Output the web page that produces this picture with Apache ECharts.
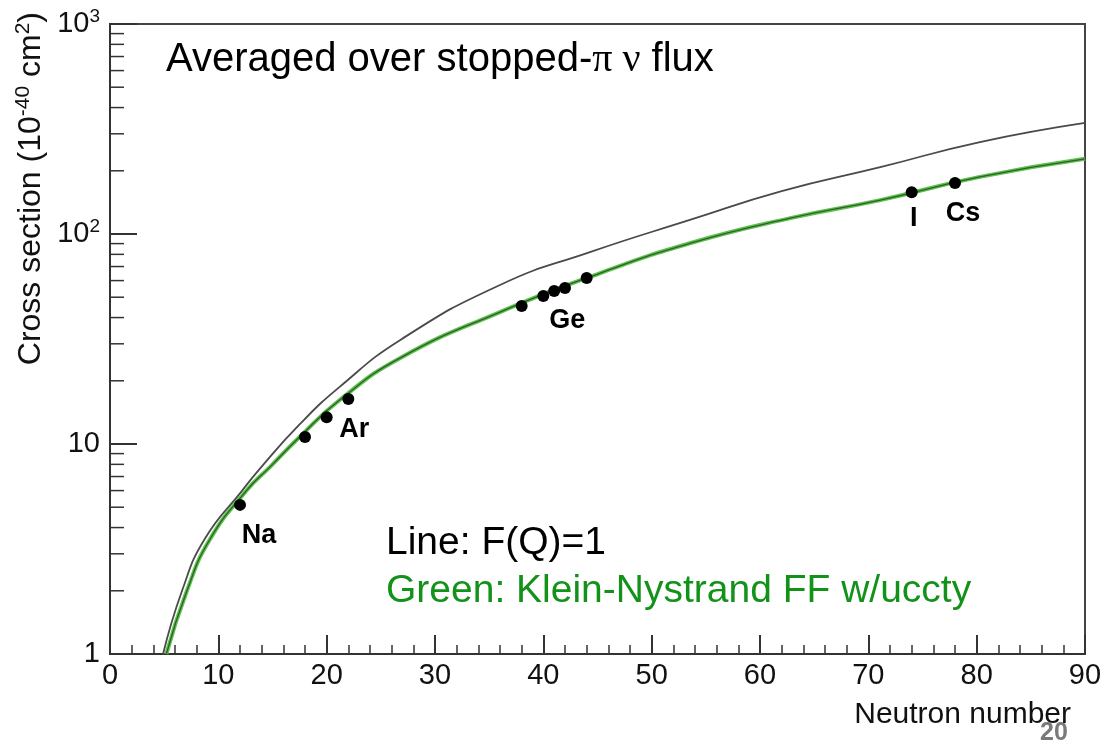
<!DOCTYPE html>
<html>
<head>
<meta charset="utf-8">
<title>Cross section vs neutron number</title>
<script src="https://cdn.jsdelivr.net/npm/echarts@6/dist/echarts.min.js"></script>
<style>
  html, body { margin: 0; padding: 0; background: #fff; }
  #main { width: 1109px; height: 744px; }
</style>
</head>
<body>
<div id="main"></div>
<script type="text/javascript">
// curve: F(Q)=1 (thin dark line)
var blackN  = [4.9, 6.65, 8.7, 12.2, 13.9, 17.5, 21.2, 26.8, 36, 44.3, 53.6, 62, 71.1, 80.3, 90];
var blackXs = [1, 2.0, 3.5, 6.0, 7.7, 12.4, 18.7, 31.3, 57.2, 82, 117, 160, 208, 274, 338];
// Klein-Nystrand FF curve (green)
var greenN  = [5.2, 7.1, 9.2, 12.6, 14.8, 17.5, 21.2, 26.8, 36, 45.2, 53.6, 62.8, 71.1, 80.3, 90];
var greenXs = [1, 2.0, 3.5, 6.0, 7.8, 10.8, 16.2, 25.7, 42.5, 65, 90.6, 119, 145, 187, 228];
// isotopes
var pointN     = [12, 18, 20, 22, 38, 40, 41, 42, 44, 74, 78];
var pointXs    = [5.13, 10.8, 13.4, 16.4, 45.4, 50.7, 53.5, 55.3, 61.7, 158, 175];
var pointLabel = ['Na', '', '', 'Ar', '', '', 'Ge', '', '', 'I', 'Cs'];
// minor ticks on the log axis
var yMinorTicks = [2, 3, 4, 5, 6, 7, 8, 9, 20, 30, 40, 50, 60, 70, 80, 90, 200, 300, 400, 500, 600, 700, 800, 900];

var font = 'Liberation Sans, Arial, Helvetica, sans-serif';
var labelOffset = { Na: [19, 31], Ar: [6, 31], Ge: [13, 30], I: [2, 26], Cs: [8, 31] };

function pairs(xs, ys) {
  return xs.map(function (x, i) { return [x, ys[i]]; });
}

var pointData = pointN.map(function (n, i) {
  var name = pointLabel[i];
  var item = { value: [n, pointXs[i]] };
  if (name) {
    item.label = {
      show: true, formatter: name, position: 'inside', offset: labelOffset[name],
      fontFamily: font, fontWeight: 'bold', fontSize: 27, color: '#000'
    };
  }
  return item;
});

var myChart = echarts.init(document.getElementById('main'));
var option = {
  backgroundColor: '#fff',
  animation: false,
  grid: {
    left: 110, right: 24, top: 24, bottom: 90,
    show: true, borderColor: '#444', borderWidth: 2,
    outerBoundsMode: 'none'
  },
  xAxis: {
    type: 'value', min: 0, max: 90, interval: 10,
    name: 'Neutron number', nameLocation: 'end',
    nameTextStyle: { fontFamily: font, fontSize: 30, color: '#111', align: 'right', verticalAlign: 'top', padding: [46, 0, 0, 0] },
    nameGap: -14,
    axisLine: { show: true, lineStyle: { color: '#333', width: 2 } },
    axisTick: { show: true, inside: true, length: 19, lineStyle: { color: '#333', width: 2 } },
    minorTick: { show: true, splitNumber: 5, length: 9, lineStyle: { color: '#333', width: 1.5 } },
    axisLabel: { fontFamily: font, fontSize: 29, color: '#111', margin: 7 },
    splitLine: { show: false }
  },
  yAxis: {
    type: 'log', logBase: 10, min: 1, max: 1000,
    axisLine: { show: true, lineStyle: { color: '#333', width: 2 } },
    axisTick: { show: true, inside: true, length: 27, lineStyle: { color: '#333', width: 2 } },
    axisLabel: {
      fontFamily: font, fontSize: 29, color: '#111', margin: 10,
      formatter: function (v) {
        if (v < 5) return '1';
        if (v < 50) return '10';
        if (v < 500) return '10{s|2}';
        return '10{s|3}';
      },
      rich: { s: { fontFamily: font, fontSize: 19, color: '#111', verticalAlign: 'bottom', padding: [0, 0, 15, 0] } }
    },
    splitLine: { show: false }
  },
  series: [
    {
      type: 'custom', silent: true, z: 3,
      data: yMinorTicks.map(function (v) { return [0, v]; }),
      renderItem: function (params, api) {
        var p = api.coord([0, api.value(1)]);
        return {
          type: 'line',
          shape: { x1: p[0], y1: p[1], x2: p[0] + 14, y2: p[1] },
          style: { stroke: '#333', lineWidth: 1.5 }
        };
      }
    },
    {
      name: 'F(Q)=1', type: 'line', data: pairs(blackN, blackXs),
      smooth: 0.5, showSymbol: false, z: 4,
      lineStyle: { color: '#4a4a4a', width: 1.8 }
    },
    {
      name: 'Klein-Nystrand', type: 'line', data: pairs(greenN, greenXs),
      smooth: 0.5, showSymbol: false, z: 5,
      lineStyle: { color: '#5cc24c', width: 4 }
    },
    {
      name: 'Klein-Nystrand core', type: 'line', data: pairs(greenN, greenXs),
      smooth: 0.5, showSymbol: false, z: 6,
      lineStyle: { color: '#2f5f2a', width: 1.3 }
    },
    {
      type: 'scatter', data: pointData, symbol: 'circle', symbolSize: 12, z: 7,
      itemStyle: { color: '#000', opacity: 1 }
    }
  ],
  graphic: [
    {
      type: 'text', x: 166, y: 60,
      style: {
        text: 'Averaged over stopped-{g|\u03c0 \u03bd} flux',
        font: '40px ' + font, fill: '#000', textVerticalAlign: 'middle',
        rich: { g: { fontFamily: 'Liberation Serif, Times New Roman, serif', fontSize: 40, fill: '#000' } }
      }
    },
    {
      type: 'text', x: 386, y: 543,
      style: { text: 'Line: F(Q)=1', font: '39px ' + font, fill: '#000', textVerticalAlign: 'middle' }
    },
    {
      type: 'text', x: 386, y: 591,
      style: { text: 'Green: Klein-Nystrand FF w/uccty', font: '39px ' + font, fill: '#13921a', textVerticalAlign: 'middle' }
    },
    {
      type: 'text', x: 31, y: 12, rotation: Math.PI / 2,
      style: {
        text: 'Cross section (10{s|-40} cm{s|2})',
        font: '32px ' + font, fill: '#111', textAlign: 'right', textVerticalAlign: 'middle',
        rich: { s: { fontFamily: font, fontSize: 21, fill: '#111', verticalAlign: 'bottom', padding: [0, 0, 15, 0] } }
      }
    },
    {
      type: 'text', x: 1054, y: 733,
      style: { text: '20', font: 'bold 25px ' + font, fill: '#7a7a7a', textAlign: 'center', textVerticalAlign: 'middle' }
    }
  ]
};
myChart.setOption(option);
</script>
</body>
</html>
